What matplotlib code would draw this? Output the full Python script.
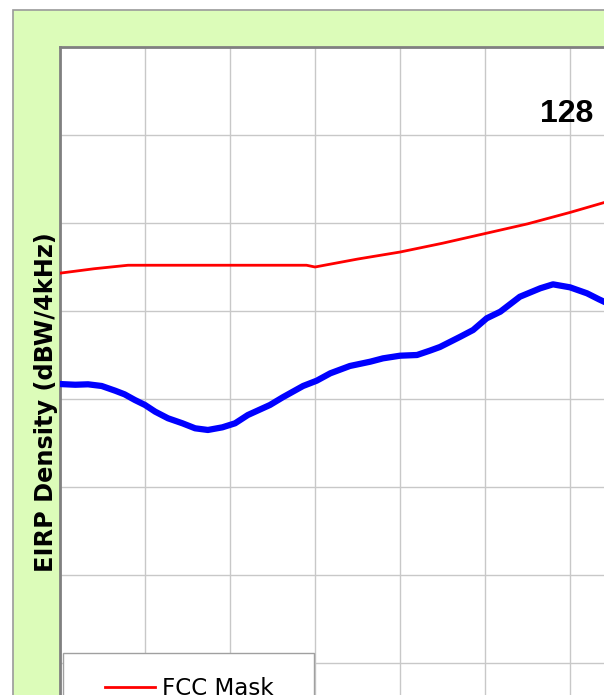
import matplotlib
matplotlib.use("Agg")
import matplotlib.pyplot as plt
from matplotlib.patches import Rectangle
from matplotlib.legend_handler import HandlerLine2D

# ---- data (off-axis angle in degrees, EIRP density in dBW/4kHz) ----
mask_theta = [-10.0, -9.6, -9.2, -8.0, -7.1, -7.0, -6.5, -6.0, -5.5, -5.0, -4.5, -4.0, -3.5, -3.0]
mask_eirp = [-35.7, -35.2, -34.8, -34.8, -34.8, -35.0, -34.1, -33.3, -32.3, -31.2, -30.1, -28.8, -27.4, -25.8]

meas_theta = [-10.0, -9.82, -9.67, -9.51, -9.35, -9.24, -9.12, -9.0, -8.88, -8.73, -8.56, -8.41,
              -8.26, -8.09, -7.94, -7.79, -7.53, -7.38, -7.14, -6.98, -6.82, -6.59, -6.35, -6.2,
              -6.0, -5.8, -5.65, -5.53, -5.29, -5.14, -4.98, -4.82, -4.59, -4.35, -4.2, -4.0,
              -3.8, -3.66, -3.5]
meas_eirp = [-48.3, -48.38, -48.33, -48.52, -49.06, -49.47, -50.11, -50.68, -51.44, -52.19, -52.76, -53.33,
             -53.52, -53.22, -52.76, -51.82, -50.68, -49.81, -48.52, -47.92, -47.08, -46.25, -45.76, -45.38,
             -45.08, -45.0, -44.51, -44.09, -42.92, -42.16, -40.83, -40.08, -38.38, -37.42, -36.97, -37.31,
             -37.99, -38.67, -39.4]

title_text = "128"
ylabel_text = "EIRP Density (dBW/4kHz)"
legend_label = "FCC Mask"

W, H = 604, 695
fig = plt.figure(figsize=(W / 100, H / 100), dpi=100)
fig.patch.set_facecolor("white")


def fx(px):
    return px / W


def fy(py):
    return 1 - py / H


# green chart-area panel
fig.patches.append(Rectangle((fx(12.5), fy(800)), fx(700), (800 - 9.5) / H,
                             transform=fig.transFigure, facecolor="#dcfcb9",
                             edgecolor="#9a9a9a", linewidth=1.2, zorder=-5))

ax = fig.add_axes([fx(60), fy(751), (1760 - 60) / W, (751 - 47) / H])
ax.set_zorder(1)
ax.set_facecolor("white")
ax.set_xlim(-10, 10)
ax.set_ylim(-90, -10)
ax.set_xticks(range(-10, 11))
ax.set_yticks(range(-90, -9, 10))
ax.grid(True, color="#c8c8c8", linewidth=1.0)
ax.set_axisbelow(True)
ax.tick_params(left=False, bottom=False, labelleft=False, labelbottom=False)
for s in ["left", "top"]:
    ax.spines[s].set_color("#808080")
    ax.spines[s].set_linewidth(2.0)
for s in ["right", "bottom"]:
    ax.spines[s].set_visible(False)

mask_line, = ax.plot(mask_theta, mask_eirp, color="#ff0000", linewidth=2.0,
                     solid_joinstyle="round", zorder=3)
ax.plot(meas_theta, meas_eirp, color="#0000ff", linewidth=4.5,
        solid_joinstyle="round", solid_capstyle="round", zorder=4)

fig.text(fx(540), fy(121.7), title_text, family="Liberation Sans", fontweight="bold",
         fontsize=23, ha="left", va="baseline", zorder=5)

ax.set_ylabel(ylabel_text, fontsize=17.3, fontweight="bold", family="DejaVu Sans")
ax.yaxis.set_label_coords(fx(58.5), fy(402.5), transform=fig.transFigure)

leg = ax.legend(handles=[mask_line], labels=[legend_label], loc="upper left",
                bbox_to_anchor=(fx(63), fy(653) - 0.3, (314 - 63) / W, 0.3),
                bbox_transform=fig.transFigure, mode="expand", borderaxespad=0,
                borderpad=1.05, handlelength=2.96, handletextpad=0.3,
                prop={"family": "DejaVu Sans", "size": 16.6}, frameon=True,
                fancybox=False, edgecolor="#a0a0a0", framealpha=1,
                handler_map={mask_line: HandlerLine2D(xpad=0.78)})
leg.get_frame().set_linewidth(1.0)
leg.set_zorder(10)

fig.savefig("out.png", dpi=100)
